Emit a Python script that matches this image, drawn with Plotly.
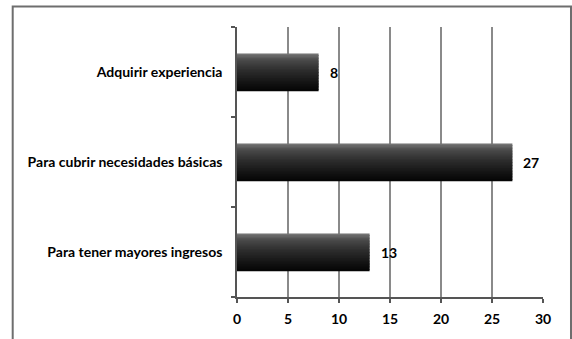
import plotly.graph_objects as go

# Motivos para trabajar (frecuencias)
categorias = ["Adquirir experiencia", "Para cubrir necesidades básicas", "Para tener mayores ingresos"]
valores = [8, 27, 13]
ticks_x = [0, 5, 10, 15, 20, 25, 30]

FONT = "Lato"
FSIZE = 14
BAR_W = 0.41
N_STRIPS = 24


def shade(t):
    # vertical shading of a bar: grey on top fading to black at the bottom
    stops = [(0.0, 115), (0.15, 75), (0.45, 45), (0.8, 20), (1.0, 6)]
    for (t0, c0), (t1, c1) in zip(stops, stops[1:]):
        if t <= t1:
            c = c0 + (c1 - c0) * (t - t0) / (t1 - t0)
            break
    c = int(round(c))
    return f"rgb({c},{c},{c})"


fig = go.Figure()

strip = BAR_W / N_STRIPS
for i in range(N_STRIPS):
    t = i / (N_STRIPS - 1)
    fig.add_trace(go.Bar(
        x=valores,
        y=categorias,
        orientation="h",
        width=strip * 1.6,
        offset=-BAR_W / 2 + i * strip,
        marker=dict(color=shade(t), line=dict(width=0)),
        hoverinfo="skip",
        showlegend=False,
    ))

for cat, v in zip(categorias, valores):
    fig.add_annotation(
        x=v, y=cat, xref="x", yref="y",
        text=f"<b>{v}</b>", showarrow=False,
        xanchor="left", xshift=9,
        font=dict(family=FONT, size=FSIZE, color="#000"),
    )

# outer frame of the chart area
fig.add_shape(
    type="rect", xref="paper", yref="paper",
    x0=-0.733, x1=1.0915, y0=-0.2, y1=1.076,
    line=dict(color="#6e6e6e", width=2), fillcolor="rgba(0,0,0,0)",
    layer="below",
)

fig.update_layout(
    width=572, height=339,
    margin=dict(l=237, r=29, t=27, b=36),
    paper_bgcolor="white",
    plot_bgcolor="white",
    barmode="overlay",
    font=dict(family=FONT, size=FSIZE, color="#000"),
    xaxis=dict(
        range=[0, 30],
        tickvals=ticks_x,
        ticktext=[f"<b>{t}</b>" for t in ticks_x],
        showgrid=True, gridcolor="#8a8a8a", gridwidth=1.5,
        showline=True, linecolor="#555", linewidth=1.5,
        ticks="outside", ticklen=4, tickcolor="#555", tickwidth=1.5,
        ticklabelstandoff=4,
        zeroline=False, fixedrange=True,
    ),
    yaxis=dict(
        type="category",
        categoryorder="array", categoryarray=categorias,
        autorange="reversed",
        tickvals=categorias,
        ticktext=[f"<b>{c}</b>" for c in categorias],
        tickson="boundaries",
        showgrid=False,
        showline=True, linecolor="#555", linewidth=1.5,
        ticks="outside", ticklen=4, tickcolor="#555", tickwidth=1.5,
        ticklabelstandoff=10,
        zeroline=False, fixedrange=True,
    ),
)

fig.write_html("out.html")
